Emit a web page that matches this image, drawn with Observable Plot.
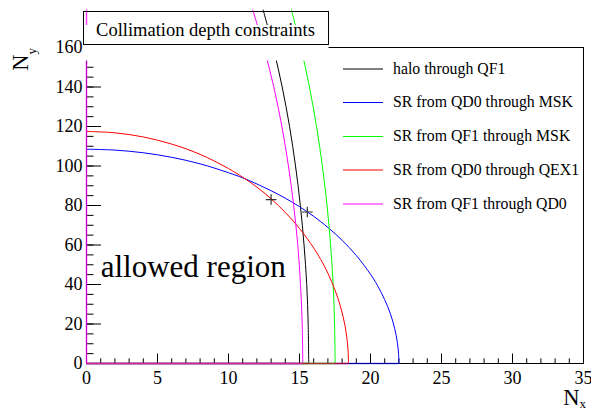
<!DOCTYPE html>
<html><head><meta charset="utf-8">
<script src="https://cdn.jsdelivr.net/npm/d3@7"></script>
<script src="https://cdn.jsdelivr.net/npm/@observablehq/plot@0.6"></script>
<style>
body{margin:0;background:#fff;font-family:'Liberation Serif'}
svg{display:block}
</style>
</head><body>
<div id="chart"></div>
<script>
// ---- data ----
const titleText = "Collimation depth constraints";
const annotationText = "allowed region";
const seriesNames = ["halo through QF1", "SR from QD0 through MSK", "SR from QF1 through MSK", "SR from QD0 through QEX1", "SR from QF1 through QD0"];
const seriesColors = ["#000000", "#0000ff", "#00ff00", "#ff0000", "#ff00ff"];

// near-vertical curves (x read at given y)
const steepY = [0, 20, 40, 60, 80, 100, 120, 140, 160, 179];
const haloQF1X = [15.65, 15.61, 15.51, 15.32, 15.06, 14.72, 14.30, 13.78, 13.15, 12.44];
const qf1MskX = [17.51, 17.47, 17.37, 17.19, 16.94, 16.61, 16.20, 15.70, 15.10, 14.43];
const qf1Qd0X = [15.23, 15.19, 15.07, 14.88, 14.59, 14.22, 13.76, 13.19, 12.49, 11.71];

// arc-like curves (y read at given x)
const qd0MskX = [0, 2, 4, 6, 8, 10, 11, 12, 13, 14, 15, 16, 17, 18, 19, 20, 20.5, 21, 21.4, 21.7, 21.9, 21.98, 22.0];
const qd0MskY = [108.5, 108.05, 106.7, 104.4, 101.1, 96.6, 94.0, 90.9, 87.5, 83.7, 79.4, 74.5, 68.9, 62.4, 54.7, 45.2, 39.4, 32.3, 25.2, 17.8, 10.3, 4.6, 0];
const qd0Qex1X = [0, 2, 4, 6, 8, 10, 11, 12, 13, 14, 15, 16, 16.5, 17, 17.5, 17.9, 18.2, 18.35, 18.43, 18.45];
const qd0Qex1Y = [117.5, 116.8, 114.7, 111.1, 105.9, 98.7, 94.3, 89.3, 83.4, 76.5, 68.4, 58.5, 52.6, 45.7, 37.2, 28.5, 19.3, 12.2, 5.5, 0];

// marked intersection points
const markerX = [13.0, 15.55];
const markerY = [83.0, 76.7];

const annotationX = 1;
const annotationY = 44;

const xMajor = [0, 5, 10, 15, 20, 25, 30, 35];
const yMajor = [0, 20, 40, 60, 80, 100, 120, 140, 160];
const xMinor = d3.range(0, 36, 1);
const yMinor = d3.range(0, 161, 5);

// ---- build tables ----
const steep = (xs, name) => xs.map((x, i) => ({x, y: steepY[i], s: name}));
const arc = (xs, ys, name) => xs.map((x, i) => ({x, y: ys[i], s: name}));
const curves = [
  steep(haloQF1X, seriesNames[0]),
  arc(qd0MskX, qd0MskY, seriesNames[1]),
  steep(qf1MskX, seriesNames[2]),
  arc(qd0Qex1X, qd0Qex1Y, seriesNames[3]),
  steep(qf1Qd0X, seriesNames[4])
];
const baseSegs = curves.map((c, i) => ({end: d3.max(c.filter(d => d.y === 0), d => d.x), color: seriesColors[i]}));
const leftSeg = [{top: d3.max(curves[4], d => d.y)}];
const markers = markerX.map((x, i) => ({x, y: markerY[i]}));

const W = 591, H = 409, mL = 86, mR = 8, mT = 47, mB = 46;
const frameW = W - mL - mR, frameH = H - mT - mB;
const font = "Liberation Serif";

const marks = [
  Plot.frame({stroke: "#000"}),
  Plot.tickX(xMinor, {x: d => d, insetTop: frameH - 4.7, stroke: "#000"}),
  Plot.tickX(xMajor, {x: d => d, insetTop: frameH - 9.5, stroke: "#000"}),
  Plot.tickY(yMinor, {y: d => d, insetRight: frameW - 7.5, stroke: "#000"}),
  Plot.tickY(yMajor, {y: d => d, insetRight: frameW - 15, stroke: "#000"}),
  Plot.text(xMajor, {x: d => d, text: d => String(d), frameAnchor: "bottom", dy: 8, lineAnchor: "top", fontSize: 18, fontFamily: font, fill: "#000"}),
  Plot.text(yMajor, {y: d => d, text: d => String(d), frameAnchor: "left", dx: -4, textAnchor: "end", fontSize: 18, fontFamily: font, fill: "#000"}),
  ...curves.map((c, i) => Plot.line(c, {x: "x", y: "y", stroke: seriesColors[i], strokeWidth: 1, curve: "catmull-rom"})),
  Plot.ruleY(baseSegs, {y: 0, x1: 0, x2: "end", stroke: "color", strokeOpacity: 0.6, strokeWidth: 1.5}),
  Plot.ruleX(leftSeg, {x: 0, y1: 0, y2: "top", stroke: seriesColors[4], strokeOpacity: 0.75, strokeWidth: 1.5}),
  Plot.dot(markers, {x: "x", y: "y", symbol: "plus", r: 3.5, stroke: "#333", strokeWidth: 1.2}),
  Plot.text([annotationText], {x: annotationX, y: annotationY, text: d => d, textAnchor: "start", lineAnchor: "bottom", fontSize: 31, fontFamily: font, fill: "#000"})
];

const svg = Plot.plot({
  width: W, height: H,
  marginLeft: mL, marginRight: mR, marginTop: mT, marginBottom: mB,
  style: {fontFamily: font, fontSize: "18px", background: "#fff", color: "#000"},
  x: {domain: [0, 35], axis: null},
  y: {domain: [0, 160], axis: null},
  marks
});
document.getElementById("chart").appendChild(svg);

// ---- decorations (title pave, legend, axis titles) ----
const sel = d3.select(svg);
// region hidden under the title pave
sel.append("rect").attr("x", 83).attr("y", 25).attr("width", 245.5).attr("height", 35.5).attr("fill", "#fff");
sel.append("rect").attr("x", 83.5).attr("y", 11.5).attr("width", 245).attr("height", 33)
  .attr("fill", "none").attr("stroke", "#000").attr("stroke-width", 1);
sel.append("text").attr("x", 205.5).attr("y", 36).attr("text-anchor", "middle")
  .attr("font-family", font).attr("font-size", 18.5).attr("fill", "#000").text(titleText);

// legend
const legendRows = [68.5, 102, 136, 169.5, 203.5];
const lg = sel.append("g");
seriesNames.forEach((name, i) => {
  lg.append("line").attr("x1", 343).attr("x2", 383).attr("y1", legendRows[i] + 0.5).attr("y2", legendRows[i] + 0.5)
    .attr("stroke", seriesColors[i]).attr("stroke-width", 1);
  lg.append("text").attr("x", 393).attr("y", legendRows[i]).attr("dy", "0.34em").attr("text-anchor", "start")
    .attr("font-family", font).attr("font-size", 15.8).attr("fill", "#000").text(name);
});

// axis titles
const tx = sel.append("text").attr("x", 586).attr("y", 405).attr("text-anchor", "end")
  .attr("font-family", font).attr("font-size", 22.5).attr("fill", "#000");
tx.append("tspan").text("N");
tx.append("tspan").attr("font-size", 13).attr("dy", 3).text("x");
const ty = sel.append("text").attr("transform", "translate(28,48) rotate(-90)").attr("text-anchor", "end")
  .attr("font-family", font).attr("font-size", 22.5).attr("fill", "#000");
ty.append("tspan").text("N");
ty.append("tspan").attr("font-size", 13).attr("dy", 8).text("y");
</script>
</body></html>
